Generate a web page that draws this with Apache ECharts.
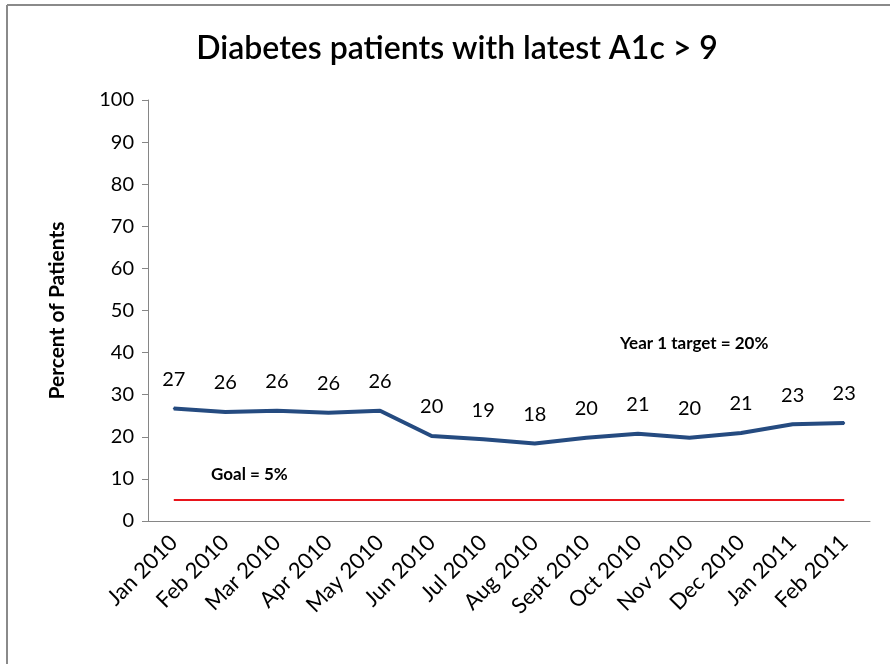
<!DOCTYPE html>
<html>
<head>
<meta charset="utf-8">
<script src="https://cdn.jsdelivr.net/npm/echarts@6/dist/echarts.min.js"></script>
<style>
  html, body { margin: 0; padding: 0; background: #fff; }
  #chart { width: 890px; height: 664px; }
</style>
</head>
<body>
<div id="chart"></div>
<script>
// data
var months = ['Jan 2010', 'Feb 2010', 'Mar 2010', 'Apr 2010', 'May 2010', 'Jun 2010', 'Jul 2010',
    'Aug 2010', 'Sept 2010', 'Oct 2010', 'Nov 2010', 'Dec 2010', 'Jan 2011', 'Feb 2011'];
var a1cPercent = [26.7, 25.9, 26.2, 25.7, 26.2, 20.2, 19.4, 18.4, 19.8, 20.7, 19.8, 20.9, 23.0, 23.3];
var goalPercent = [5, 5, 5, 5, 5, 5, 5, 5, 5, 5, 5, 5, 5, 5];
var yTicks = { min: 0, max: 100, interval: 10 };

var font = 'Lato, "Open Sans", sans-serif';

var myChart = echarts.init(document.getElementById('chart'));
myChart.setOption({
    animation: false,
    backgroundColor: '#fff',
    title: {
        text: 'Diabetes patients with latest A1c > 9',
        left: 452,
        textAlign: 'center',
        top: 28,
        textStyle: { fontFamily: font, fontSize: 32, fontWeight: 600, color: '#000' }
    },
    grid: { left: 148, right: 20, top: 100, bottom: 143 },
    xAxis: {
        type: 'category',
        data: months,
        boundaryGap: true,
        axisLine: { lineStyle: { color: '#868686', width: 1 } },
        axisTick: { length: 6, lineStyle: { color: '#868686' } },
        axisLabel: { rotate: 45, fontFamily: font, fontSize: 22, color: '#000', margin: 18, interval: 0 }
    },
    yAxis: {
        type: 'value',
        min: yTicks.min,
        max: yTicks.max,
        interval: yTicks.interval,
        name: 'Percent of Patients',
        nameLocation: 'middle',
        nameGap: 80,
        nameTextStyle: { fontFamily: font, fontSize: 21, fontWeight: 'bold', color: '#000' },
        axisLine: { show: true, lineStyle: { color: '#868686', width: 1 } },
        axisTick: { show: true, length: 6, lineStyle: { color: '#868686' } },
        splitLine: { show: false },
        axisLabel: { fontFamily: font, fontSize: 20, color: '#000', margin: 14 }
    },
    series: [
        {
            name: 'A1c > 9',
            type: 'line',
            data: a1cPercent,
            symbol: 'circle',
            symbolSize: 2,
            showSymbol: true,
            itemStyle: { color: '#254B80' },
            lineStyle: { color: '#254B80', width: 4 },
            label: {
                show: true,
                position: 'top',
                distance: 18,
                fontFamily: font,
                fontSize: 20,
                color: '#000',
                formatter: function (p) { return Math.round(p.value); }
            }
        },
        {
            name: 'Goal',
            type: 'line',
            data: goalPercent,
            symbol: 'none',
            lineStyle: { color: '#E8141B', width: 2 }
        }
    ],
    graphic: [
        { type: 'line', shape: { x1: 7, y1: 5, x2: 890, y2: 5 }, style: { stroke: '#8a8a8a', lineWidth: 2 } },
        { type: 'line', shape: { x1: 7, y1: 5, x2: 7, y2: 664 }, style: { stroke: '#8a8a8a', lineWidth: 2 } },
        { type: 'text', left: 211, top: 466, style: { text: 'Goal = 5%', font: 'bold 17px ' + font, fill: '#000' } },
        { type: 'text', left: 620, top: 335, style: { text: 'Year 1 target = 20%', font: 'bold 17px ' + font, fill: '#000' } }
    ]
});
</script>
</body>
</html>
